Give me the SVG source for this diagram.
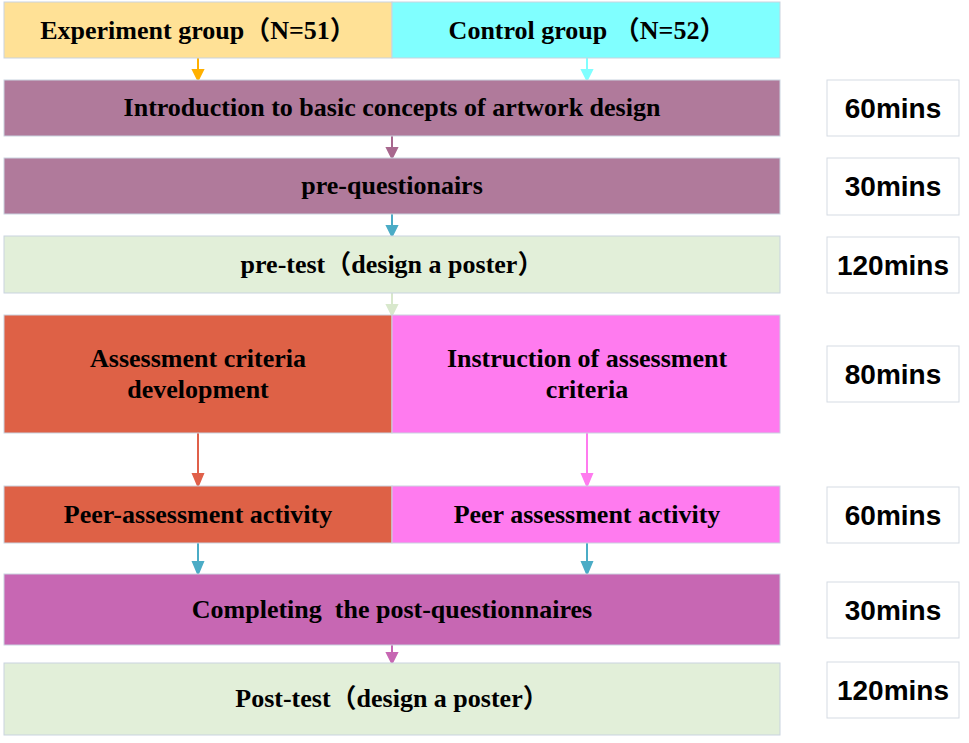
<svg xmlns="http://www.w3.org/2000/svg" width="969" height="743" viewBox="0 0 969 743">
<style>
.box{stroke:#c9d3df;stroke-width:1}
.t{font-family:"Liberation Serif","Times New Roman","Noto Sans CJK SC",serif;font-weight:bold;font-size:26px;fill:#000;text-anchor:middle}
.m{font-family:"Liberation Sans",Arial,sans-serif;font-weight:bold;font-size:28px;fill:#000;text-anchor:middle}
.tb{fill:#fff;stroke:#d5dbe3;stroke-width:1}
</style>
<rect width="969" height="743" fill="#fff"/>
<g id="connectors" stroke-width="2">
<g stroke="#FFB000" fill="#FFB000"><line x1="198" y1="58" x2="198" y2="72"/><polygon points="193,70 203,70 198,80"/></g>
<g stroke="#80FFFF" fill="#80FFFF"><line x1="587" y1="58" x2="587" y2="72"/><polygon points="582,70 592,70 587,80"/></g>
<g stroke="#A8688E" fill="#A8688E"><line x1="392" y1="136" x2="392" y2="150"/><polygon points="387,148 397,148 392,158"/></g>
<g stroke="#4BACC6" fill="#4BACC6"><line x1="392" y1="214" x2="392" y2="228"/><polygon points="387,226 397,226 392,236"/></g>
<g stroke="#D8E8CC" fill="#D8E8CC"><line x1="392" y1="293" x2="392" y2="307"/><polygon points="387,305 397,305 392,315"/></g>
<g stroke="#E0604A" fill="#E0604A"><line x1="198" y1="433" x2="198" y2="476"/><polygon points="193,474 203,474 198,486"/></g>
<g stroke="#FF7BEF" fill="#FF7BEF"><line x1="587" y1="433" x2="587" y2="476"/><polygon points="582,474 592,474 587,486"/></g>
<g stroke="#4BACC6" fill="#4BACC6"><line x1="198" y1="543" x2="198" y2="563"/><polygon points="193,562 203,562 198,574"/></g>
<g stroke="#4BACC6" fill="#4BACC6"><line x1="587" y1="543" x2="587" y2="563"/><polygon points="582,562 592,562 587,574"/></g>
<g stroke="#C767B3" fill="#C767B3"><line x1="392" y1="645" x2="392" y2="655"/><polygon points="387,653 397,653 392,663"/></g>
</g>
<g id="experiment"><rect class="box" x="4" y="2" width="388" height="56" fill="#FFE196"/><text class="t" x="198" y="39">Experiment group（N=51）</text></g>
<g id="control"><rect class="box" x="392" y="2" width="388" height="56" fill="#80FFFF"/><text class="t" x="587" y="39">Control group （N=52）</text></g>
<g id="intro"><rect class="box" x="4" y="80" width="776" height="56" fill="#B07A9B"/><text class="t" x="392" y="116">Introduction to basic concepts of artwork design</text></g>
<g id="preq"><rect class="box" x="4" y="158" width="776" height="56" fill="#B07A9B"/><text class="t" x="392" y="194">pre-questionairs</text></g>
<g id="pretest"><rect class="box" x="4" y="236" width="776" height="57" fill="#E2EFD9"/><text class="t" x="392" y="273">pre-test（design a poster）</text></g>
<g id="acd"><rect class="box" x="4" y="315" width="388" height="118" fill="#DE6146"/><text class="t" x="198" y="367">Assessment criteria</text><text class="t" x="198" y="398">development</text></g>
<g id="iac"><rect class="box" x="392" y="315" width="388" height="118" fill="#FF7BEF"/><text class="t" x="587" y="367">Instruction of assessment</text><text class="t" x="587" y="398">criteria</text></g>
<g id="peerA"><rect class="box" x="4" y="486" width="388" height="57" fill="#DE6146"/><text class="t" x="198" y="523">Peer-assessment activity</text></g>
<g id="peerB"><rect class="box" x="392" y="486" width="388" height="57" fill="#FF7BEF"/><text class="t" x="587" y="523">Peer assessment activity</text></g>
<g id="postq"><rect class="box" x="4" y="574" width="776" height="71" fill="#C767B3"/><text class="t" x="392" y="618" xml:space="preserve">Completing  the post-questionnaires</text></g>
<g id="posttest"><rect class="box" x="4" y="663" width="776" height="72" fill="#E2EFD9"/><text class="t" x="392" y="707">Post-test（design a poster）</text></g>
<g id="time1"><rect class="tb" x="827" y="80" width="132" height="56"/><text class="m" x="893" y="118">60mins</text></g>
<g id="time2"><rect class="tb" x="827" y="158" width="132" height="57"/><text class="m" x="893" y="196">30mins</text></g>
<g id="time3"><rect class="tb" x="827" y="237" width="132" height="56"/><text class="m" x="893" y="275">120mins</text></g>
<g id="time4"><rect class="tb" x="827" y="346" width="132" height="56"/><text class="m" x="893" y="384">80mins</text></g>
<g id="time5"><rect class="tb" x="827" y="487" width="132" height="56"/><text class="m" x="893" y="525">60mins</text></g>
<g id="time6"><rect class="tb" x="827" y="582" width="132" height="56"/><text class="m" x="893" y="620">30mins</text></g>
<g id="time7"><rect class="tb" x="827" y="662" width="132" height="56"/><text class="m" x="893" y="700">120mins</text></g>
</svg>
